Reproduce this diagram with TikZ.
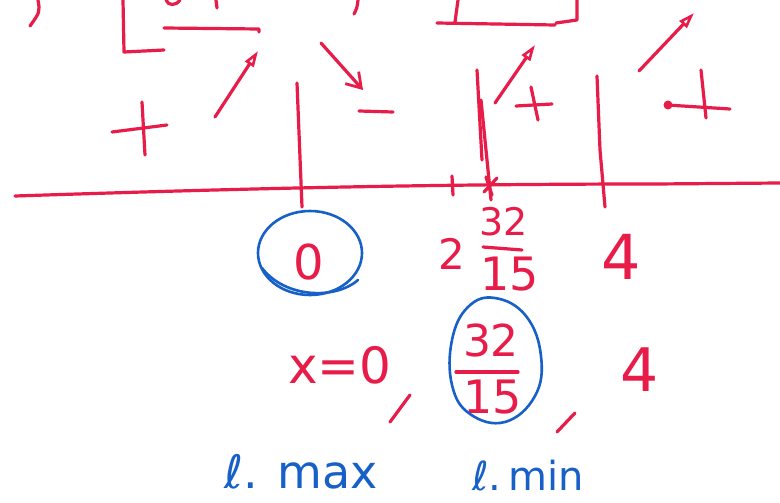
\documentclass[tikz,border=0pt]{standalone}
\usepackage{fontspec}
\setmainfont{DejaVu Sans}
\usetikzlibrary{arrows.meta}
\definecolor{pen}{RGB}{232,28,72}
\definecolor{bluepen}{RGB}{22,96,200}
\begin{document}
\begin{tikzpicture}[x=1pt,y=-1pt,
 redline/.style={draw=pen,line width=3.2pt,line cap=round,line join=round},
 blueline/.style={draw=bluepen,line width=2.6pt,line cap=round,line join=round},
 redtxt/.style={text=pen,inner sep=0pt},
 bluetxt/.style={text=bluepen,inner sep=0pt},
 openhead/.style={-{Triangle[open,length=16pt,width=10pt,line width=2.6pt]}},
 barbhead/.style={-{Straight Barb[length=14pt,width=18pt,line width=2.8pt]}}]
\useasboundingbox[fill=white] (0,0) rectangle (780,503);

% partial strokes at the top edge
\draw[redline] (38,0) .. controls (40,12) .. (30,26);
\draw[redline] (123,0) -- (124,52) -- (164,50);
\draw[redline] (164,28) -- (259,29) -- (259,32);
\draw[redline] (166,0) .. controls (168,6) and (176,6) .. (180,0);
\draw[redline] (216,0) -- (217,8);
\draw[redline] (358,0) .. controls (357,8) .. (354,14);
\draw[redline] (458,0) -- (455,22);
\draw[redline] (437,23) -- (555,25);
\draw[redline] (577,0) -- (577,20) -- (556,23);

% coordinates for arrows
\coordinate (a1t) at (215,117); \coordinate (a1h) at (258,51);
\coordinate (a2t) at (321,43);  \coordinate (a2h) at (363,90);
\coordinate (a3t) at (495,103); \coordinate (a3h) at (535,45);
\coordinate (a4t) at (639,71);  \coordinate (a4h) at (694,13);
\draw[redline,openhead] (a1t) -- (a1h);
\draw[redline,barbhead] (a2t) -- (a2h);
\draw[redline,openhead] (a3t) -- (a3h);
\draw[redline,openhead] (a4t) -- (a4h);

% signs
\draw[redline] (142,102) -- (145,155);
\draw[redline] (112,132) -- (167,125);
\draw[redline] (359,111) -- (393,112);
\draw[redline] (531,87) -- (538,120);
\draw[redline] (516,106) -- (552,104);
\draw[redline] (701,70) -- (706,118);
\draw[redline] (667,105) -- (730,109);
\fill[pen] (668,105) circle (4.5);

% sign-chart axis and dividers
\draw[redline] (15,196) .. controls (200,190) and (400,184) .. (655,184) -- (780,183);
\draw[redline] (297,83) -- (302,207);
\draw[redline] (477,70) -- (482,160);
\draw[redline] (481,100) -- (491,200);
\draw[redline] (597,76) -- (600,150) -- (605,207);
\draw[redline] (452,176) -- (453,195);
\draw[redline] (486,177) -- (492,195);
\draw[redline] (484,192) -- (497,178);

% critical values row
\node[redtxt,font=\fontsize{48}{48}\selectfont] (zero) at (309,262) {0};
\draw[blueline] (310,253) ellipse [x radius=52, y radius=42];
\draw[blueline] (262,268) .. controls (285,298) and (335,300) .. (358,280);
\node[redtxt,font=\fontsize{42}{42}\selectfont] (two) at (452,254) {2};
\node[redtxt,font=\fontsize{38}{38}\selectfont] (numA) at (504,222) {32};
\draw[redline] (483,247) -- (522,250);
\node[redtxt,font=\fontsize{46}{46}\selectfont] (denA) at (510,274) {15};
\node[redtxt,font=\fontsize{62}{62}\selectfont] (four) at (621,257) {4};

% second row
\node[redtxt,font=\fontsize{50}{50}\selectfont] (xeq) at (340,365) {x=0};
\node[redtxt,font=\fontsize{44}{44}\selectfont] (numB) at (491,340) {32};
\draw[redline] (456,372) -- (518,372);
\node[redtxt,font=\fontsize{46}{46}\selectfont] (denB) at (493,397) {15};
\draw[blueline] plot[smooth cycle,tension=0.7] coordinates {(495,298) (526,316) (541,356) (535,396) (505,422) (470,414) (452,385) (452,340) (468,307)};
\node[redtxt,font=\fontsize{60}{60}\selectfont] (fourB) at (640,370) {4};
\draw[redline] (390,422) -- (410,395);
\draw[redline] (557,432) -- (575,413);

% labels
\node[bluetxt,font=\fontsize{46}{46}\selectfont] (lmax) at (301,472) {ℓ. max};
\node[bluetxt,font=\fontsize{40}{40}\selectfont] (lmin) at (528,476) {ℓ.\,min};
\end{tikzpicture}
\end{document}
